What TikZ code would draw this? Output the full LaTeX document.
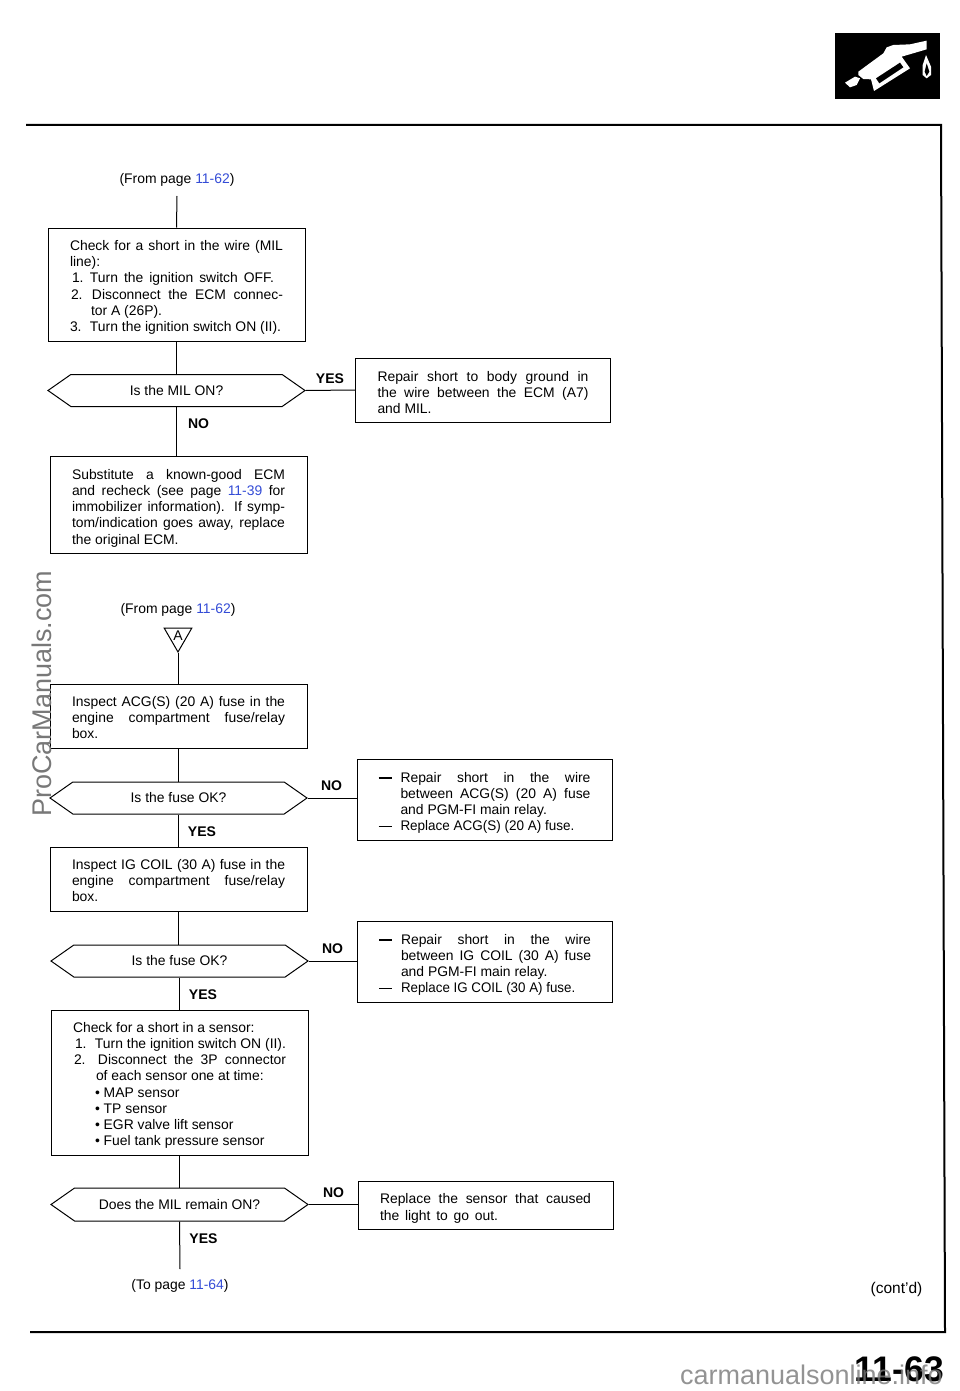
\documentclass[tikz,border=0pt]{standalone}
\usepackage{fontspec}
\usepackage{graphicx}
\setmainfont{Liberation Sans}
\usetikzlibrary{shapes.symbols,shapes.geometric}
\definecolor{pagelink}{RGB}{52,76,214}
\definecolor{markgray}{RGB}{120,120,120}
\newcommand{\jl}[1]{\makebox[\linewidth][s]{#1}}
\newcommand{\pagelnk}[1]{\textcolor{pagelink}{#1}}
\newcommand{\squeezed}[2]{\scalebox{#1}[1]{#2}}
\newcommand{\dashln}[1]{\hspace*{22pt}\llap{\rule[3.6pt]{13pt}{1.8pt}\hspace{9pt}}#1}
\newcommand{\plainln}[1]{\hspace*{22pt}#1}
\tikzset{
    bodytext/.style={font=\fontsize{13.9}{16.25}\selectfont},
    textdown/.style={execute at begin node={\rule{0pt}{\dimexpr10pt+#1\relax}}},
    stepbox/.style={draw, line width=1pt, rectangle, bodytext, align=flush left, text width=213pt,
        minimum width=257pt, inner sep=0pt},
    fixbox/.style={stepbox, text width=212pt, minimum width=255pt},
    askbox/.style={draw, line width=1pt, signal, signal to=west and east, signal pointer angle=70,
        minimum width=257pt, minimum height=32pt, inner sep=0pt, text height=11pt, text depth=2pt, bodytext},
    answer/.style={font=\fontsize{14}{16}\selectfont\bfseries},
    pagenote/.style={bodytext},
    flow/.style={line width=1pt},
}
\begin{document}
\begin{tikzpicture}[x=1pt, y=-1pt]
    \useasboundingbox (0,0) rectangle (960,1391);

    % ============================================================
    % PAGE FRAME AND ICON
    % ============================================================
    \draw[line width=2pt, line join=miter] (26,125) -- (941,125) -- (945,1332) -- (30,1332);
    \fill[black] (835,33) rectangle (940,99);
    \begin{scope}[shift={(800,10)}, scale=1/3]
        \fill[white] (380,92) -- (330,103) -- (280,105) -- (260,112) -- (250,130) -- (175,185)
            -- (175,195) -- (190,207) -- (213,208) -- (222,243) -- (330,175) -- (305,140) -- (380,118) -- cycle;
        \fill[white] (135,218) -- (165,200) -- (180,205) -- (170,225) -- (150,232) -- cycle;
        \fill[black] (228,205) -- (300,158) -- (310,172) -- (238,220) -- cycle;
        \fill[white] (378,135) -- (393,170) -- (393,195) -- (380,205) -- (368,195) -- (368,165) -- cycle;
        \fill[black] (380,160) -- (388,185) -- (380,198) -- (374,185) -- cycle;
    \end{scope}

    % ============================================================
    % FIRST CHART (MIL LINE)
    % ============================================================
    \node[pagenote] (from1) at (177,180) {(From page \pagelnk{11-62})};
    \coordinate (from1end) at (177,196);
    \node[stepbox, textdown=6pt, minimum height=113pt] (check1) at (176.5,284.5) {%
        \jl{Check for a short in the wire (MIL}\\
        line):\\
        \hspace*{2pt}\makebox[202pt][s]{\makebox[18pt][l]{1.}Turn the ignition switch OFF.}\\
        \hspace*{1pt}\makebox[212pt][s]{\makebox[21pt][l]{2.}Disconnect the ECM connec-}\\
        \hspace*{21pt}tor A (26P).\\
        \makebox[20pt][l]{3.}Turn the ignition switch ON (II).};
    \node[askbox] (ask1) at (176.5,390.5) {Is the MIL ON?};
    \node[stepbox, textdown=7pt, minimum height=97pt] (sub1) at (178.5,504.5) {%
        \jl{Substitute a known-good ECM}\\
        \jl{and recheck (see page \pagelnk{11-39} for}\\
        \jl{immobilizer information). If symp-}\\
        \jl{tom/indication goes away, replace}\\
        the original ECM.};
    \node[stepbox, textdown=5pt, text width=211pt, minimum width=255pt, minimum height=64pt] (fix1) at (483,390) {%
        \jl{Repair short to body ground in}\\
        \jl{the wire between the ECM (A7)}\\
        and MIL.};
    \node[answer] (yes1) at (330,378.5) {YES};
    \node[answer] (no1) at (198.5,424) {NO};

    \draw[flow] (from1end) -- (check1.north);
    \draw[flow] (check1.south) -- (ask1.north);
    \draw[flow] (ask1.south) -- (sub1.north -| ask1.south);
    \draw[flow] (ask1.east) -- (fix1.west);

    % ============================================================
    % SECOND CHART (FUSES AND SENSORS)
    % ============================================================
    \node[pagenote] (from2) at (178,609.5) {(From page \pagelnk{11-62})};
    \node[draw, line width=1pt, regular polygon, regular polygon sides=3, shape border rotate=180,
        minimum size=32pt, inner sep=0pt, font=\fontsize{14}{16}\selectfont] (markA) at (178,636) {A};
    \node[stepbox, textdown=3pt, minimum height=64pt] (fuse1) at (178.5,716) {%
        \jl{Inspect ACG(S) (20 A) fuse in the}\\
        \jl{engine compartment fuse/relay}\\
        box.};
    \node[askbox] (ask2) at (178.5,798) {Is the fuse OK?};
    \node[stepbox, textdown=3pt, minimum height=64pt] (fuse2) at (178.5,879) {%
        \jl{Inspect IG COIL (30 A) fuse in the}\\
        \jl{engine compartment fuse/relay}\\
        box.};
    \node[askbox] (ask3) at (179.5,961) {Is the fuse OK?};
    \node[stepbox, textdown=6pt, minimum height=145pt] (sensor1) at (179.5,1082.5) {%
        Check for a short in a sensor:\\
        \hspace*{2pt}\makebox[20pt][l]{1.}Turn the ignition switch ON (II).\\
        \hspace*{1pt}\makebox[212pt][s]{\makebox[24pt][l]{2.}Disconnect the 3P connector}\\
        \hspace*{23pt}of each sensor one at time:\\
        \hspace*{22pt}• MAP sensor\\
        \hspace*{22pt}• TP sensor\\
        \hspace*{22pt}• EGR valve lift sensor\\
        \hspace*{22pt}• Fuel tank pressure sensor};
    \node[askbox, minimum height=33pt] (ask4) at (179.5,1204.5) {Does the MIL remain ON?};
    \coordinate (to1end) at (180,1269);
    \node[pagenote] (to1) at (180,1285.5) {(To page \pagelnk{11-64})};

    \node[fixbox, textdown=7pt, minimum height=81pt] (fix2) at (484.5,799.5) {%
        \dashln{\makebox[190pt][s]{Repair short in the wire}}\\
        \plainln{\makebox[190pt][s]{between ACG(S) (20 A) fuse}}\\
        \plainln{and PGM-FI main relay.}\\
        \dashln{\squeezed{0.97}{Replace ACG(S) (20 A) fuse.}}};
    \node[fixbox, textdown=7pt, minimum height=81pt] (fix3) at (485,961.5) {%
        \dashln{\makebox[190pt][s]{Repair short in the wire}}\\
        \plainln{\makebox[190pt][s]{between IG COIL (30 A) fuse}}\\
        \plainln{and PGM-FI main relay.}\\
        \dashln{\squeezed{0.96}{Replace IG COIL (30 A) fuse.}}};
    \node[stepbox, textdown=7pt, text width=211pt, minimum width=255pt, minimum height=48pt] (fix4) at (485.5,1205) {%
        \jl{Replace the sensor that caused}\\
        \makebox[118pt][s]{the light to go out.}};

    \node[answer] (no2) at (331.5,786) {NO};
    \node[answer] (yes2) at (202,832) {YES};
    \node[answer] (no3) at (332.5,949) {NO};
    \node[answer] (yes3) at (203,995) {YES};
    \node[answer] (no4) at (333.5,1192.5) {NO};
    \node[answer] (yes4) at (203.5,1238.5) {YES};

    \draw[flow] (markA.corner 1) -- (fuse1.north -| markA.corner 1);
    \draw[flow] (fuse1.south) -- (ask2.north);
    \draw[flow] (ask2.south) -- (fuse2.north);
    \draw[flow] (fuse2.south) -- (ask3.north -| fuse2.south);
    \draw[flow] (ask3.south) -- (sensor1.north);
    \draw[flow] (sensor1.south) -- (ask4.north);
    \draw[flow] (ask4.south) -- (to1end);
    \draw[flow] (ask2.east) -- (ask2.east -| fix2.west);
    \draw[flow] (ask3.east) -- (ask3.east -| fix3.west);
    \draw[flow] (ask4.east) -- (ask4.east -| fix4.west);

    % ============================================================
    % PAGE FOOT AND MARGIN MARKS
    % ============================================================
    \node[font=\fontsize{15.5}{18}\selectfont] (contd) at (896.5,1289) {(cont'd)};
    \node[anchor=east, inner sep=0pt, font=\fontsize{35.5}{40}\bfseries\selectfont] (pagenum) at (944,1369) {11-63};
    \node[anchor=east, inner sep=0pt, text=markgray, opacity=0.8, font=\fontsize{27}{30}\selectfont] (markfoot) at (943,1375) {carmanualsonline.info};
    \node[rotate=90, anchor=west, text=markgray, inner sep=0pt, font=\fontsize{27}{32}\selectfont] (markside) at (42,817) {ProCarManuals.com};
\end{tikzpicture}
\end{document}
